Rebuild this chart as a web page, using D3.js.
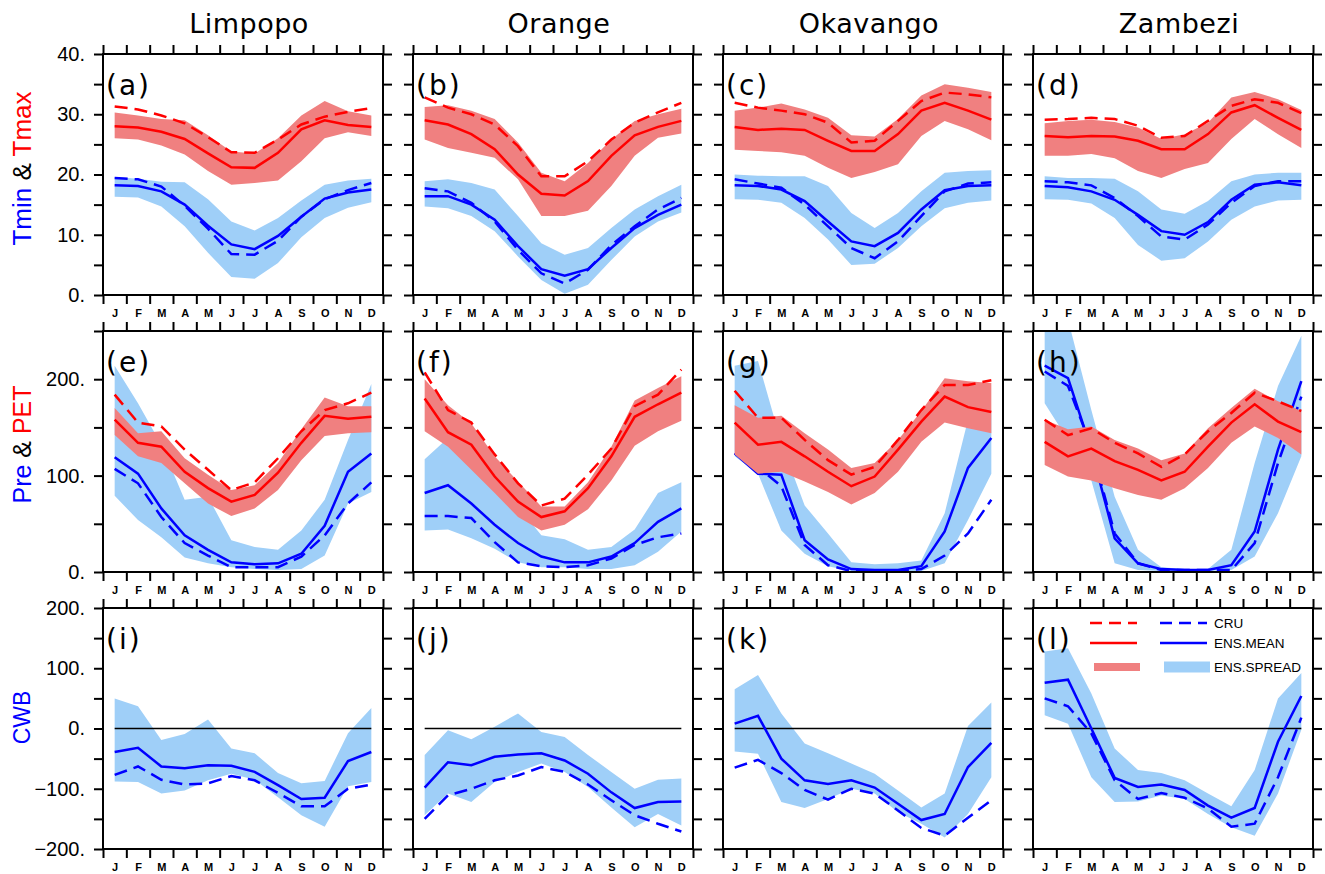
<!DOCTYPE html>
<html>
<head>
<meta charset="utf-8">
<script src="https://cdn.jsdelivr.net/npm/d3@7"></script>
<style>
  body { margin: 0; background: #fff; }
  svg { display: block; font-family: "Liberation Sans", Arial, sans-serif; }
</style>
</head>
<body>
<svg id="chart" width="1325" height="874"></svg>
<script>
const months = ["J", "F", "M", "A", "M", "J", "J", "A", "S", "O", "N", "D"];
const basins = ["Limpopo", "Orange", "Okavango", "Zambezi"];
const panelLabels = [
  ["(a)", "(b)", "(c)", "(d)"],
  ["(e)", "(f)", "(g)", "(h)"],
  ["(i)", "(j)", "(k)", "(l)"]
];

// one row per basin: Limpopo, Orange, Okavango, Zambezi
const tmaxCru = [
  [31.3, 30.8, 29.8, 28.5, 26.2, 23.7, 23.6, 25.8, 28.3, 29.6, 30.4, 31.0],
  [32.8, 31.1, 30.0, 28.3, 24.7, 19.7, 19.7, 22.2, 25.8, 28.6, 30.3, 31.9],
  [31.9, 31.1, 30.6, 30.0, 28.6, 25.3, 25.6, 28.9, 32.2, 33.6, 33.3, 32.8],
  [29.1, 29.2, 29.4, 29.2, 28.1, 26.1, 26.4, 28.9, 31.4, 32.5, 31.9, 30.2]
];
const tmaxMean = [
  [28.0, 27.8, 27.1, 25.9, 23.5, 21.2, 21.1, 23.6, 27.5, 29.0, 28.2, 27.9],
  [29.0, 28.3, 26.7, 24.2, 20.0, 16.8, 16.5, 18.9, 23.1, 26.5, 27.9, 28.9],
  [27.9, 27.4, 27.6, 27.4, 25.6, 23.9, 23.9, 26.7, 30.6, 31.9, 30.6, 29.1],
  [26.4, 26.2, 26.4, 26.3, 25.6, 24.2, 24.2, 26.7, 30.3, 31.5, 29.4, 27.4]
];
const tmaxHi = [
  [30.3, 29.8, 29.2, 29.0, 26.5, 23.8, 23.5, 26.0, 29.8, 32.2, 30.5, 29.8],
  [31.2, 31.5, 30.6, 29.2, 25.3, 20.3, 18.9, 21.9, 25.8, 28.9, 30.0, 30.9],
  [30.6, 31.1, 31.8, 30.8, 29.4, 26.5, 26.3, 29.2, 33.1, 35.0, 34.4, 33.7],
  [28.5, 28.9, 29.1, 28.7, 27.8, 25.9, 26.7, 28.6, 32.8, 33.7, 32.5, 30.7]
];
const tmaxLo = [
  [26.0, 25.8, 24.8, 23.3, 20.6, 18.3, 18.6, 19.0, 22.2, 26.0, 27.0, 26.4],
  [25.8, 24.4, 23.6, 22.8, 19.2, 13.1, 13.1, 14.0, 18.1, 23.1, 26.1, 26.8],
  [24.1, 23.9, 23.7, 23.1, 21.1, 19.4, 20.4, 21.7, 26.4, 28.9, 27.5, 25.7],
  [23.1, 23.1, 23.4, 22.7, 20.6, 19.4, 20.9, 21.9, 25.9, 29.2, 26.7, 24.4]
];
const tminCru = [
  [19.4, 19.2, 18.0, 14.8, 11.0, 6.8, 6.7, 9.0, 13.0, 15.9, 17.4, 18.6],
  [17.7, 17.2, 15.3, 12.2, 7.5, 3.6, 1.9, 4.2, 8.3, 11.4, 14.2, 16.1],
  [19.2, 18.5, 17.8, 15.0, 11.4, 7.8, 6.1, 8.9, 13.1, 17.2, 18.5, 18.7],
  [18.9, 18.7, 18.2, 16.1, 13.1, 9.7, 9.2, 11.7, 15.3, 18.1, 18.9, 18.9]
];
const tminMean = [
  [18.2, 18.1, 17.2, 15.0, 11.5, 8.4, 7.6, 9.8, 13.0, 16.0, 17.0, 17.5],
  [16.4, 16.4, 15.0, 12.5, 8.1, 4.3, 3.2, 4.3, 7.8, 11.1, 13.3, 15.0],
  [18.2, 18.1, 17.5, 15.6, 12.2, 8.9, 8.1, 10.3, 14.2, 17.4, 18.1, 18.2],
  [18.1, 17.9, 17.2, 15.8, 13.3, 10.6, 10.0, 12.1, 15.8, 18.3, 18.7, 18.2]
];
const tminHi = [
  [19.6, 19.3, 18.8, 18.7, 15.9, 12.2, 10.7, 12.8, 15.7, 18.3, 19.0, 19.3],
  [18.9, 19.2, 18.6, 17.5, 13.1, 8.6, 6.7, 7.8, 11.1, 14.2, 16.4, 18.3],
  [20.0, 19.8, 19.7, 19.7, 18.1, 13.6, 11.1, 13.6, 17.2, 20.3, 20.6, 20.7],
  [19.7, 19.4, 19.4, 19.3, 17.2, 14.2, 13.5, 15.6, 18.9, 20.0, 20.3, 20.3]
];
const tminLo = [
  [16.3, 16.2, 14.7, 11.4, 7.0, 3.0, 2.7, 5.3, 9.6, 12.8, 14.5, 15.4],
  [14.7, 14.4, 13.1, 10.6, 6.4, 2.5, 0.2, 1.7, 5.8, 9.7, 12.2, 13.7],
  [15.9, 15.8, 15.3, 12.8, 9.2, 5.0, 5.2, 7.8, 11.4, 14.4, 15.3, 15.7],
  [15.9, 15.8, 15.2, 12.8, 8.3, 5.7, 6.1, 8.9, 12.5, 14.7, 15.7, 15.8]
];

const petCru = [
  [184, 155, 151, 127, 106, 85, 93, 118, 146, 168, 175, 186],
  [207, 168, 155, 122, 92, 69, 76, 101, 128, 172, 184, 210],
  [188, 160, 160, 137, 116, 101, 109, 137, 168, 194, 194, 199],
  [158, 142, 149, 134, 123, 109, 122, 146, 165, 186, 177, 167]
];
const petMean = [
  [158, 134, 130, 104, 87, 73, 80, 103, 134, 162, 159, 161],
  [180, 145, 132, 99, 73, 57, 63, 87, 120, 161, 174, 186],
  [155, 132, 135, 120, 104, 89, 99, 127, 156, 182, 171, 166],
  [135, 120, 128, 115, 106, 95, 104, 130, 155, 174, 156, 145]
];
const petHi = [
  [170, 144, 146, 118, 101, 85, 90, 113, 148, 181, 172, 172],
  [200, 173, 154, 120, 94, 68, 68, 93, 130, 178, 191, 203],
  [173, 160, 162, 144, 127, 108, 113, 137, 167, 201, 198, 196],
  [158, 148, 151, 137, 128, 116, 123, 149, 170, 190, 177, 167]
];
const petLo = [
  [142, 120, 113, 92, 71, 58, 66, 85, 116, 141, 144, 145],
  [146, 130, 106, 82, 57, 43, 49, 65, 95, 131, 146, 157],
  [122, 102, 104, 94, 83, 70, 82, 104, 135, 155, 149, 144],
  [111, 99, 95, 87, 80, 75, 87, 108, 134, 151, 139, 122]
];
const preCru = [
  [107, 92, 57, 30, 17, 5, 5, 5, 16, 38, 71, 93],
  [58, 58, 56, 31, 10, 6, 5, 7, 14, 28, 36, 40],
  [123, 109, 89, 28, 7, 1, 1, 1, 3, 17, 40, 75],
  [208, 193, 130, 40, 9, 2, 2, 2, 2, 30, 113, 182]
];
const preMean = [
  [119, 102, 66, 38, 23, 10, 8, 9, 19, 48, 104, 123],
  [82, 90, 71, 49, 30, 16, 10, 10, 16, 30, 52, 66],
  [123, 102, 101, 33, 13, 3, 2, 2, 6, 42, 108, 139],
  [214, 201, 127, 35, 9, 3, 2, 2, 7, 42, 127, 198]
];
const preHi = [
  [214, 175, 132, 75, 78, 33, 26, 23, 43, 75, 137, 195],
  [117, 139, 125, 95, 68, 38, 34, 23, 26, 44, 82, 93],
  [214, 219, 134, 69, 40, 10, 8, 9, 12, 61, 158, 165],
  [265, 262, 168, 78, 23, 5, 3, 3, 23, 113, 193, 245]
];
const preLo = [
  [79, 54, 36, 15, 9, 5, 3, 2, 3, 17, 71, 83],
  [43, 44, 35, 24, 10, 5, 5, 3, 3, 7, 21, 42],
  [120, 102, 43, 19, 6, 1, 1, 1, 1, 9, 54, 102],
  [175, 137, 95, 9, 2, 1, 1, 1, 2, 16, 61, 120]
];

const cwbCru = [
  [-77, -63, -85, -93, -91, -79, -86, -107, -129, -129, -100, -93],
  [-150, -111, -100, -86, -78, -64, -72, -93, -119, -144, -158, -171],
  [-65, -52, -74, -102, -118, -100, -108, -136, -165, -178, -148, -119],
  [50, 37, -8, -86, -117, -107, -115, -133, -163, -158, -81, 18]
];
const cwbMean = [
  [-39, -32, -63, -66, -61, -62, -72, -94, -117, -115, -54, -39],
  [-98, -56, -61, -47, -43, -41, -53, -75, -106, -132, -122, -121],
  [8, 21, -50, -86, -92, -86, -98, -125, -152, -142, -64, -24],
  [76, 81, 0, -82, -97, -93, -102, -128, -148, -132, -22, 54]
];
const cwbHi = [
  [50, 37, -19, -9, 15, -33, -41, -74, -91, -87, -8, 34],
  [-44, -3, -18, 3, 25, -6, -14, -44, -72, -100, -85, -83],
  [65, 89, 25, -25, -41, -58, -75, -103, -131, -108, 4, 43],
  [128, 133, 58, -33, -69, -74, -86, -108, -129, -69, 50, 92]
];
const cwbLo = [
  [-88, -89, -108, -103, -86, -75, -85, -114, -144, -163, -96, -89],
  [-144, -108, -122, -89, -72, -58, -72, -97, -131, -164, -142, -161],
  [-38, -42, -122, -132, -117, -100, -108, -139, -158, -181, -142, -81],
  [22, 8, -81, -122, -121, -111, -117, -142, -164, -178, -108, -2]
];

const RED = "#ff0000", BLUE = "#0000ff";
const RED_FILL = "#f08080", BLUE_FILL = "#9fcff8";

const rows = [
  {
    domain: [0, 40], ticks: d3.range(0, 41, 5), labelled: [0, 10, 20, 30, 40],
    ylab: [["Tmin", BLUE], [" & ", "#000"], ["Tmax", RED]], ylabSize: 26, ylabY: -6,
    series: [
      { cru: tminCru, mean: tminMean, hi: tminHi, lo: tminLo, line: BLUE, fill: BLUE_FILL },
      { cru: tmaxCru, mean: tmaxMean, hi: tmaxHi, lo: tmaxLo, line: RED, fill: RED_FILL }
    ]
  },
  {
    domain: [0, 250], ticks: d3.range(0, 251, 50), labelled: [0, 100, 200],
    ylab: [["Pre", BLUE], [" & ", "#000"], ["PET", RED]], ylabSize: 25, ylabY: -7,
    series: [
      { cru: preCru, mean: preMean, hi: preHi, lo: preLo, line: BLUE, fill: BLUE_FILL },
      { cru: petCru, mean: petMean, hi: petHi, lo: petLo, line: RED, fill: RED_FILL }
    ]
  },
  {
    domain: [-200, 200], ticks: d3.range(-200, 201, 50), labelled: [-200, -100, 0, 100, 200],
    ylab: [["CWB", BLUE]], ylabSize: 23, ylabY: -11, zero: true,
    series: [
      { cru: cwbCru, mean: cwbMean, hi: cwbHi, lo: cwbLo, line: BLUE, fill: BLUE_FILL }
    ]
  }
];

const colLeft = [103, 413, 723, 1033];
const rowTop = [54, 331, 608];
const W = 280, H = 241;

const svg = d3.select("#chart");
const x = d3.scaleLinear().domain([0, 12]).range([0, W]);
const fmt = d => (d < 0 ? "\u2212" : "") + Math.abs(d) + ".";

// basin titles
basins.forEach((b, c) => {
  svg.append("text")
    .attr("x", colLeft[c] + W / 2 + 6)
    .attr("y", 33)
    .attr("text-anchor", "middle")
    .style("font-family", "'DejaVu Sans', sans-serif")
    .style("font-size", "27px")
    .style("letter-spacing", "0.5px")
    .text(b);
});

rows.forEach((row, r) => {
  const y = d3.scaleLinear().domain(row.domain).range([H, 0]);

  // row y label
  const yl = svg.append("text")
    .attr("transform", `translate(22,${rowTop[r] + H / 2 + row.ylabY}) rotate(-90)`)
    .attr("text-anchor", "middle")
    .attr("dominant-baseline", "central")
    .style("font-size", row.ylabSize + "px");
  row.ylab.forEach(([t, col]) => yl.append("tspan").attr("fill", col).text(t));

  basins.forEach((b, c) => {
    const g = svg.append("g").attr("transform", `translate(${colLeft[c]},${rowTop[r]})`);
    const clipId = `clip-${r}-${c}`;
    g.append("clipPath").attr("id", clipId).append("rect").attr("width", W).attr("height", H);
    const plot = g.append("g").attr("clip-path", `url(#${clipId})`);

    const area = d3.area().x((d, i) => x(i + 0.5)).y0(d => y(d[0])).y1(d => y(d[1]));
    const line = d3.line().x((d, i) => x(i + 0.5)).y(d => y(d));

    row.series.forEach(s => {
      const band = s.lo[c].map((v, i) => [v, s.hi[c][i]]);
      plot.append("path").attr("d", area(band)).attr("fill", s.fill);
      if (row.zero) {
        plot.append("line")
          .attr("x1", x(0.5)).attr("x2", x(11.5))
          .attr("y1", y(0)).attr("y2", y(0))
          .attr("stroke", "#000").attr("stroke-width", 1.5);
      }
      plot.append("path").attr("d", line(s.cru[c]))
        .attr("fill", "none").attr("stroke", s.line).attr("stroke-width", 2.5)
        .attr("stroke-dasharray", "13,7");
      plot.append("path").attr("d", line(s.mean[c]))
        .attr("fill", "none").attr("stroke", s.line).attr("stroke-width", 2.5);
    });

    // axes, ticks outward
    const yLeft = d3.axisLeft(y).tickValues(row.ticks).tickSize(9).tickPadding(9)
      .tickFormat(d => (c === 0 && row.labelled.includes(d)) ? fmt(d) : "");
    const yRight = d3.axisRight(y).tickValues(row.ticks).tickSize(9).tickFormat("");
    const xBot = d3.axisBottom(x).tickValues(d3.range(13)).tickSize(9).tickFormat("");
    const xTop = d3.axisTop(x).tickValues(d3.range(13)).tickSize(9).tickFormat("");
    const xLab = d3.axisBottom(x).tickValues(d3.range(12).map(i => i + 0.5))
      .tickSize(0).tickPadding(14).tickFormat((d, i) => months[i]);

    const axes = [
      g.append("g").call(yLeft),
      g.append("g").attr("transform", `translate(${W},0)`).call(yRight),
      g.append("g").attr("transform", `translate(0,${H})`).call(xBot),
      g.append("g").call(xTop)
    ];
    axes.forEach(a => {
      a.select(".domain").remove();
      a.selectAll("line").attr("stroke", "#000").attr("stroke-width", 2);
    });
    axes[0].selectAll("text")
      .style("font-size", "20px").style("font-family", "'Liberation Sans', Arial, sans-serif")
      .attr("fill", "#000");

    const lab = g.append("g").attr("transform", `translate(0,${H})`).call(xLab);
    lab.select(".domain").remove();
    lab.selectAll("text")
      .style("font-size", "11px").style("font-weight", "bold")
      .style("font-family", "'Liberation Sans', Arial, sans-serif")
      .attr("fill", "#000");

    g.append("rect").attr("width", W).attr("height", H)
      .attr("fill", "none").attr("stroke", "#000").attr("stroke-width", 2);

    g.append("text")
      .attr("x", 3).attr("y", 31)
      .attr("dominant-baseline", "central")
      .style("font-family", "'DejaVu Sans', sans-serif")
      .style("font-size", "28px")
      .style("letter-spacing", "2px")
      .text(panelLabels[r][c]);
  });
});

// legend inside panel (l)
const lg = svg.append("g").attr("transform", `translate(${colLeft[3]},${rowTop[2]})`);
const legendRows = ["CRU", "ENS.MEAN", "ENS.SPREAD"];
const legendY = [15, 35, 59];
legendRows.forEach((t, k) => {
  [[57, 104, RED, RED_FILL, 8], [127, 174, BLUE, BLUE_FILL, 11]].forEach(([x0, x1, col, fill, th]) => {
    if (k < 2) {
      lg.append("line").attr("x1", x0).attr("x2", x1)
        .attr("y1", legendY[k]).attr("y2", legendY[k])
        .attr("stroke", col).attr("stroke-width", 2.5)
        .attr("stroke-dasharray", k === 0 ? "12,7" : null);
    } else {
      lg.append("rect").attr("x", x0 + 4).attr("y", legendY[k] - th / 2)
        .attr("width", x1 - x0 - 1).attr("height", th).attr("fill", fill);
    }
  });
  lg.append("text").attr("x", 181).attr("y", legendY[k])
    .attr("dominant-baseline", "central")
    .style("font-size", "13.5px")
    .text(t);
});
</script>
</body>
</html>
